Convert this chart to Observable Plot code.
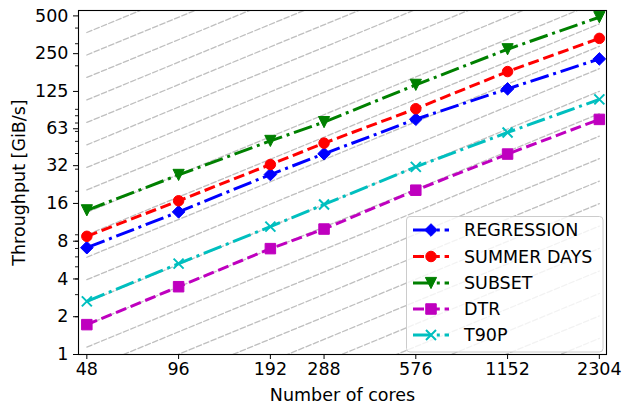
<!DOCTYPE html>
<html>
<head>
<meta charset="utf-8">
<script src="https://cdn.jsdelivr.net/npm/d3@7"></script>
<script src="https://cdn.jsdelivr.net/npm/@observablehq/plot@0.6"></script>
<style>
  body { margin: 0; background: #fff; }
  #wrap { position: relative; width: 622px; height: 407px; font-family: "DejaVu Sans", sans-serif; }
  #wrap svg { position: absolute; left: 0; top: 0; }
</style>
</head>
<body>
<div id="wrap"></div>
<script>
// ---- data ----
const cores = [48, 96, 192, 288, 576, 1152, 2304];
const regression = [7.1, 13.7, 27.2, 39.8, 75, 131, 227];
const summerDays = [8.75, 16.8, 32.7, 48.4, 91, 180, 331];
const subset = [14.1, 27, 50.4, 71.2, 141, 271, 488];
const dtr = [1.73, 3.47, 6.98, 10.0, 20.4, 39.6, 74.8];
const t90p = [2.65, 5.3, 10.46, 15.7, 31.3, 58.9, 108];
const seriesNames = ["REGRESSION", "SUMMER DAYS", "SUBSET", "DTR", "T90P"];
const xTicks = [48, 96, 192, 288, 576, 1152, 2304];
const yTicks = [1, 2, 4, 8, 16, 32, 63, 125, 250, 500];
const yMinorTicks = [2, 3, 4, 5, 6, 7, 8, 9, 20, 30, 40, 50, 60, 70, 80, 90, 200, 300, 400];
// ideal-scaling reference lines: throughput at 48 cores
const refAt48 = [368.6, 244.0, 161.6, 107.0, 70.8, 46.9, 31.0, 20.5, 13.6, 9.0, 5.96, 3.95, 2.61, 1.73, 1.145, 0.758, 0.502, 0.332, 0.220, 0.146, 0.0964, 0.0638, 0.0423, 0.0280];

// ---- symbols (matplotlib-like markers) ----
const rr = s => Math.sqrt(s / Math.PI);
const symDiamond = {draw(c, s) { const r = rr(s) * 1.26; c.moveTo(0, -r); c.lineTo(r, 0); c.lineTo(0, r); c.lineTo(-r, 0); c.closePath(); }};
const symCircle = {draw(c, s) { const r = rr(s) * 1.05; c.moveTo(r, 0); c.arc(0, 0, r, 0, 2 * Math.PI); }};
const symTriDown = {draw(c, s) { const r = rr(s) * 1.12; c.moveTo(-r, -r); c.lineTo(r, -r); c.lineTo(0, r); c.closePath(); }};
const symSquare = {draw(c, s) { const r = rr(s) * 1.05; c.moveTo(-r, -r); c.lineTo(r, -r); c.lineTo(r, r); c.lineTo(-r, r); c.closePath(); }};
const symX = {draw(c, s) { const r = rr(s) * 1.0; c.moveTo(-r, -r); c.lineTo(r, r); c.moveTo(-r, r); c.lineTo(r, -r); }};

const DASH = "11,4.8";
const DASHDOT = "19,4.8,3,4.8";
const styles = [
  {name: seriesNames[0], values: regression, color: "#0000ff", dash: DASHDOT, symbol: symDiamond, filled: true},
  {name: seriesNames[1], values: summerDays, color: "#ff0000", dash: DASH, symbol: symCircle, filled: true},
  {name: seriesNames[2], values: subset, color: "#008000", dash: DASHDOT, symbol: symTriDown, filled: true},
  {name: seriesNames[3], values: dtr, color: "#bf00bf", dash: DASH, symbol: symSquare, filled: true},
  {name: seriesNames[4], values: t90p, color: "#00bfbf", dash: DASHDOT, symbol: symX, filled: false}
];

const refRows = refAt48.flatMap((v, i) => [
  {id: i, cores: cores[0], value: v},
  {id: i, cores: cores[cores.length - 1], value: v * cores[cores.length - 1] / cores[0]}
]);

const FONT = 17.5;
const marks = [
  Plot.line(refRows, {x: "cores", y: "value", z: "id", stroke: "#bfbfbf", strokeWidth: 1.3, strokeDasharray: "5.5,2.4", clip: true})
];
for (const s of styles) {
  const rows = cores.map((c, i) => ({cores: c, value: s.values[i]}));
  marks.push(Plot.line(rows, {x: "cores", y: "value", stroke: s.color, strokeWidth: 3, strokeDasharray: s.dash, strokeLinecap: "butt"}));
  marks.push(Plot.dot(rows, {x: "cores", y: "value", r: 5, symbol: s.symbol,
    fill: s.filled ? s.color : "none", stroke: s.color, strokeWidth: s.filled ? 1 : 2}));
}
marks.push(
  Plot.frame({stroke: "black", strokeWidth: 1.1}),
  Plot.axisX({ticks: xTicks, tickFormat: d => String(d), tickSize: 5, tickPadding: 3, fontSize: FONT, label: null, stroke: "black"}),
  Plot.axisY({ticks: yMinorTicks, text: null, tickSize: 3, label: null, strokeWidth: 0.9}),
  Plot.axisY({ticks: yTicks, text: null, tickSize: 5, label: null}),
  Plot.text(yTicks, {y: d => d, frameAnchor: "left", dx: -10, textAnchor: "end", lineAnchor: "middle", text: d => String(d), fontSize: FONT, fill: "black"}),
  Plot.text(["Number of cores"], {frameAnchor: "bottom", dy: 40.6, lineAnchor: "middle", textAnchor: "middle", text: d => d, fontSize: FONT, fill: "black"}),
  Plot.text(["Throughput [GiB/s]"], {frameAnchor: "left", dx: -59.5, rotate: -90, lineAnchor: "middle", textAnchor: "middle", text: d => d, fontSize: FONT, fill: "black"})
);

const chart = Plot.plot({
  width: 622,
  height: 407,
  marginLeft: 78,
  marginRight: 16,
  marginTop: 10,
  marginBottom: 53,
  style: {fontFamily: "DejaVu Sans", fontSize: FONT + "px", color: "black", background: "white", overflow: "visible"},
  x: {type: "log", domain: [45.07, 2432]},
  y: {type: "log", domain: [1, 552]},
  marks
});
const wrap = document.getElementById("wrap");
wrap.appendChild(chart);

// ---- legend (overlay) ----
const leg = d3.select(wrap).append("svg").attr("width", 622).attr("height", 407)
  .style("font-family", "DejaVu Sans").style("pointer-events", "none");
leg.append("rect").attr("x", 406.5).attr("y", 216.5).attr("width", 196.5).attr("height", 135.5)
  .attr("rx", 3.5).attr("fill", "rgba(255,255,255,0.8)").attr("stroke", "#cccccc").attr("stroke-width", 1);
const rowY = [230, 256.5, 283, 309, 335];
styles.forEach((s, i) => {
  const g = leg.append("g").attr("transform", `translate(0,${rowY[i]})`);
  g.append("line").attr("x1", 413).attr("x2", 449).attr("y1", 0).attr("y2", 0)
    .attr("stroke", s.color).attr("stroke-width", 3).attr("stroke-dasharray", s.dash);
  g.append("path").attr("transform", "translate(431,0)")
    .attr("d", d3.symbol(s.symbol, 25 * Math.PI)())
    .attr("fill", s.filled ? s.color : "none").attr("stroke", s.color).attr("stroke-width", s.filled ? 1 : 2);
  g.append("text").attr("x", 464).attr("y", 0).attr("dy", "0.35em")
    .attr("font-size", FONT).attr("fill", "black").text(s.name);
});
</script>
</body>
</html>
